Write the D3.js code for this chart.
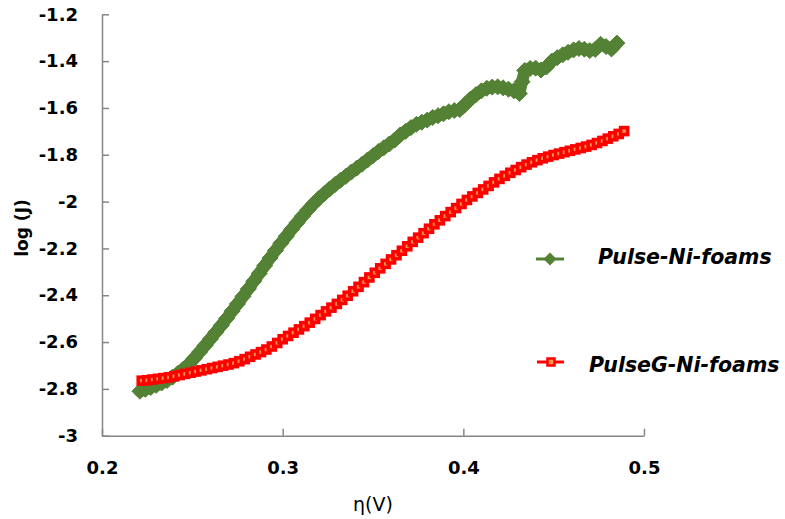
<!DOCTYPE html>
<html>
<head>
<meta charset="utf-8">
<script src="https://cdn.jsdelivr.net/npm/d3@7"></script>
<style>
  html, body { margin: 0; padding: 0; background: #ffffff; }
  svg { display: block; }
  text { font-family: "DejaVu Sans", sans-serif; fill: #000; }
</style>
</head>
<body>
<svg id="chart" width="785" height="519"></svg>
<script>
// Tafel data: overpotential η (V) against log(J)
const pulseNi = [
  [0.221,-2.810],[0.224,-2.802],[0.227,-2.794],[0.230,-2.785],[0.233,-2.775],
  [0.236,-2.764],[0.239,-2.750],[0.242,-2.734],[0.245,-2.716],[0.248,-2.695],
  [0.251,-2.670],[0.254,-2.643],[0.257,-2.615],[0.260,-2.587],[0.263,-2.558],
  [0.266,-2.529],[0.269,-2.499],[0.272,-2.468],[0.275,-2.437],[0.278,-2.405],
  [0.281,-2.373],[0.284,-2.340],[0.287,-2.307],[0.290,-2.274],[0.293,-2.241],
  [0.296,-2.209],[0.299,-2.178],[0.302,-2.148],[0.305,-2.118],[0.308,-2.090],
  [0.311,-2.062],[0.314,-2.035],[0.317,-2.010],[0.320,-1.987],[0.323,-1.966],
  [0.326,-1.946],[0.329,-1.927],[0.332,-1.909],[0.335,-1.892],[0.338,-1.874],
  [0.341,-1.857],[0.344,-1.840],[0.347,-1.822],[0.350,-1.804],[0.353,-1.786],
  [0.356,-1.770],[0.359,-1.754],[0.362,-1.737],[0.365,-1.716],[0.368,-1.700],
  [0.371,-1.684],[0.374,-1.670],[0.377,-1.661],[0.380,-1.652],[0.383,-1.641],
  [0.386,-1.633],[0.389,-1.625],[0.392,-1.616],[0.395,-1.611],[0.398,-1.607],
  [0.401,-1.585],[0.404,-1.562],[0.407,-1.543],[0.410,-1.527],[0.413,-1.516],
  [0.416,-1.511],[0.419,-1.510],[0.422,-1.514],[0.425,-1.520],[0.428,-1.527],
  [0.431,-1.538],[0.4325,-1.488],[0.434,-1.440],[0.437,-1.431],[0.440,-1.430],
  [0.443,-1.438],[0.446,-1.425],[0.449,-1.400],[0.452,-1.385],[0.455,-1.373],
  [0.458,-1.362],[0.461,-1.352],[0.464,-1.346],[0.467,-1.349],[0.470,-1.355],
  [0.473,-1.350],[0.476,-1.328],[0.479,-1.338],[0.482,-1.348],[0.485,-1.323]
];

const pulseGNi = [
  [0.222,-2.765],[0.225,-2.763],[0.228,-2.760],[0.231,-2.757],[0.234,-2.754],
  [0.237,-2.751],[0.240,-2.746],[0.243,-2.741],[0.246,-2.736],[0.249,-2.731],
  [0.252,-2.726],[0.255,-2.721],[0.258,-2.716],[0.261,-2.711],[0.264,-2.706],
  [0.267,-2.701],[0.270,-2.696],[0.273,-2.690],[0.276,-2.682],[0.279,-2.673],
  [0.282,-2.663],[0.285,-2.653],[0.288,-2.643],[0.291,-2.632],[0.294,-2.619],
  [0.297,-2.604],[0.300,-2.588],[0.303,-2.574],[0.306,-2.560],[0.309,-2.546],
  [0.312,-2.532],[0.315,-2.517],[0.318,-2.501],[0.321,-2.485],[0.324,-2.469],
  [0.327,-2.453],[0.330,-2.437],[0.333,-2.420],[0.336,-2.402],[0.339,-2.383],
  [0.342,-2.364],[0.345,-2.344],[0.348,-2.324],[0.351,-2.304],[0.354,-2.285],
  [0.357,-2.266],[0.360,-2.247],[0.363,-2.229],[0.366,-2.210],[0.369,-2.191],
  [0.372,-2.172],[0.375,-2.154],[0.378,-2.135],[0.381,-2.116],[0.384,-2.097],
  [0.387,-2.080],[0.390,-2.062],[0.393,-2.045],[0.396,-2.028],[0.399,-2.010],
  [0.402,-1.993],[0.405,-1.978],[0.408,-1.963],[0.411,-1.948],[0.414,-1.933],
  [0.417,-1.918],[0.420,-1.903],[0.423,-1.890],[0.426,-1.877],[0.429,-1.865],
  [0.432,-1.853],[0.435,-1.842],[0.438,-1.832],[0.441,-1.823],[0.444,-1.815],
  [0.447,-1.808],[0.450,-1.801],[0.453,-1.795],[0.456,-1.789],[0.459,-1.783],
  [0.462,-1.777],[0.465,-1.771],[0.468,-1.765],[0.471,-1.758],[0.474,-1.750],
  [0.477,-1.741],[0.480,-1.731],[0.483,-1.721],[0.486,-1.711],[0.489,-1.699]
];

const seriesNames = ["Pulse-Ni-foams", "PulseG-Ni-foams"];
const xTicks = [0.2, 0.3, 0.4, 0.5];
const yTicks = [-3, -2.8, -2.6, -2.4, -2.2, -2, -1.8, -1.6, -1.4, -1.2];

const GREEN = "#548235";
const RED = "#ff0000";
const ORANGE = "#f79646";
const AXIS = "#868686";

const svg = d3.select("#chart");

const x = d3.scaleLinear().domain([0.2, 0.5]).range([102, 644]);
const y = d3.scaleLinear().domain([-3, -1.2]).range([435.7, 14.3]);

// Axes: ticks point into the plot area
const yAxis = d3.axisLeft(y)
  .tickValues(yTicks)
  .tickFormat(d => String(+d.toFixed(1)))
  .tickSizeInner(-7).tickSizeOuter(0).tickPadding(24);

const xAxis = d3.axisBottom(x)
  .tickValues(xTicks)
  .tickFormat(d => String(+d.toFixed(1)))
  .tickSizeInner(-7).tickSizeOuter(0).tickPadding(26);

function styleAxis(g) {
  g.select(".domain").attr("stroke", AXIS).attr("stroke-width", 1.5);
  g.selectAll(".tick line").attr("stroke", AXIS).attr("stroke-width", 1.5);
  g.selectAll(".tick text")
    .attr("fill", "#000")
    .style("font-family", "'DejaVu Sans', sans-serif")
    .style("font-weight", "bold")
    .style("font-size", "18px");
}

svg.append("g").attr("transform", "translate(102,0)").call(yAxis).call(styleAxis);
svg.append("g").attr("transform", "translate(0,435.7)").call(xAxis).call(styleAxis);

// Axis titles
svg.append("text")
  .attr("x", 373).attr("y", 511)
  .attr("text-anchor", "middle")
  .style("font-size", "19px")
  .text("η(V)");

svg.append("text")
  .attr("transform", "translate(28,228) rotate(-90)")
  .attr("text-anchor", "middle")
  .style("font-size", "17px")
  .style("font-weight", "bold")
  .text("log (J)");

// Marker shapes
const diamond = s => `M0,${-s}L${s},0L0,${s}L${-s},0Z`;

function drawDiamonds(g, data) {
  g.selectAll("path.mk").data(data).join("path")
    .attr("class", "mk")
    .attr("d", diamond(8))
    .attr("transform", d => `translate(${x(d[0])},${y(d[1])})`)
    .attr("fill", GREEN)
    .attr("stroke", GREEN)
    .attr("stroke-width", 1);
}

function drawSquares(g, data) {
  g.selectAll("rect.mk").data(data).join("rect")
    .attr("class", "mk")
    .attr("x", d => x(d[0]) - 3.5)
    .attr("y", d => y(d[1]) - 3.5)
    .attr("width", 7).attr("height", 7)
    .attr("fill", ORANGE)
    .attr("stroke", RED)
    .attr("stroke-width", 3.6);
}

const line = d3.line().x(d => x(d[0])).y(d => y(d[1]));

// Pulse-Ni-foams: a broad connecting stroke under dense diamond markers
const gGreen = svg.append("g");
gGreen.append("path").datum(pulseNi)
  .attr("d", line).attr("fill", "none")
  .attr("stroke", GREEN).attr("stroke-width", 12)
  .attr("stroke-linejoin", "round").attr("stroke-linecap", "round");
drawDiamonds(gGreen, pulseNi);

// PulseG-Ni-foams
const gRed = svg.append("g");
gRed.append("path").datum(pulseGNi)
  .attr("d", line).attr("fill", "none")
  .attr("stroke", RED).attr("stroke-width", 3);
drawSquares(gRed, pulseGNi);

// Legend
const legend = svg.append("g");
const lg1 = legend.append("g").attr("transform", "translate(550,259)");
lg1.append("line").attr("x1", -14).attr("x2", 14)
  .attr("stroke", GREEN).attr("stroke-width", 3);
lg1.append("path").attr("d", diamond(6.5)).attr("fill", GREEN);
legend.append("text")
  .attr("x", 598).attr("y", 264)
  .style("font-size", "20.5px").style("font-weight", "bold").style("font-style", "italic")
  .text(seriesNames[0]);

const lg2 = legend.append("g").attr("transform", "translate(551,362)");
lg2.append("line").attr("x1", -14).attr("x2", 13)
  .attr("stroke", RED).attr("stroke-width", 3);
lg2.append("rect").attr("x", -3.5).attr("y", -3.5).attr("width", 7).attr("height", 7)
  .attr("fill", ORANGE).attr("stroke", RED).attr("stroke-width", 2.5);
legend.append("text")
  .attr("x", 589).attr("y", 372)
  .style("font-size", "20.5px").style("font-weight", "bold").style("font-style", "italic")
  .text(seriesNames[1]);
</script>
</body>
</html>
